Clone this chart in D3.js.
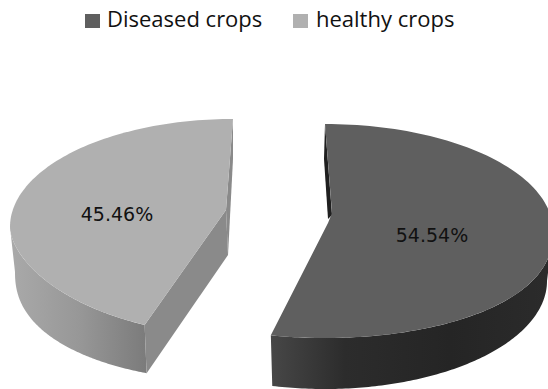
<!DOCTYPE html>
<html>
<head>
<meta charset="utf-8">
<script src="https://cdn.jsdelivr.net/npm/d3@7"></script>
<style>
html,body{margin:0;padding:0;background:#fff}
svg{display:block}
text{font-family:"Open Sans",sans-serif;fill:#111}
</style>
</head>
<body>
<svg id="chart" width="548" height="389"></svg>
<script>
const categories = ["Diseased crops", "healthy crops"];
const shares = [54.54, 45.46];
const labels = ["54.54%", "45.46%"];
const faceColors = ["#5f5f5f", "#b0b0b0"];

const svg = d3.select("#chart");
const defs = svg.append("defs");

// Each exploded slice has a top rim, a lower rim and its own apex.
// "bulge" reshapes the near half of a rim, as perspective does.
const sliceShapes = [
  { top: {cx: 325, cy: 231, rx: 228, ry: 107, bulge: 0.87}, bottom: {cx: 325, cy: 281, rx: 222, ry: 108, bulge: 1},
    apex: [328, 223], lowerApex: [328, 270], skew: -2.6,
    wall: [[271, "#474747"], [345, "#2c2c2c"], [450, "#252525"], [548, "#2b2b2b"]],
    cut: "#1f1f1f", label: [432, 235], gradX: [271, 548] },
  { top: {cx: 233, cy: 227, rx: 223, ry: 108, bulge: 1.15}, bottom: {cx: 233, cy: 272, rx: 218, ry: 109, bulge: 0.87},
    apex: [226, 210], lowerApex: [228, 255], skew: 7,
    wall: [[12, "#a9a9a9"], [80, "#979797"], [149, "#7a7a7a"]],
    cut: "#8a8a8a", label: [117, 214], gradX: [12, 149] }
];

const pieLayout = d3.pie().sort(null).value(d => d);
const arcs = pieLayout(shares);

function rim(e) {
  const x = d3.scaleLinear().domain([-1, 1]).range([e.cx - e.rx, e.cx + e.rx]);
  const y = d3.scaleLinear().domain([-1, 1]).range([e.cy - e.ry, e.cy + e.ry]);
  return a => {
    const c = -Math.cos(a);
    return [x(Math.sin(a)), y(c > 0 ? Math.pow(c, e.bulge) : c)];
  };
}
const line = d3.line();
const deg = Math.PI / 180;
const sweep = (from, to) => d3.range(0, 121).map(k => from + (to - from) * k / 120);

function drawSlice(i) {
  const s = sliceShapes[i];
  const a0 = arcs[i].startAngle + (i === 1 ? s.skew * deg : 0);
  const a1 = arcs[i].endAngle + (i === 0 ? s.skew * deg : 0);
  const topRim = rim(s.top), lowRim = rim(s.bottom);
  const g = svg.append("g");

  const gid = "wall" + i;
  const grad = defs.append("linearGradient").attr("id", gid)
    .attr("gradientUnits", "userSpaceOnUse")
    .attr("x1", s.gradX[0]).attr("x2", s.gradX[1]).attr("y1", 0).attr("y2", 0);
  s.wall.forEach(st => grad.append("stop")
    .attr("offset", (st[0] - s.gradX[0]) / (s.gradX[1] - s.gradX[0]))
    .attr("stop-color", st[1]));

  // Outer wall: only the near side of the rim is in view.
  const wallAngles = i === 0 ? sweep(90 * deg, a1) : sweep(a0, 270 * deg);
  const outer = wallAngles.map(topRim).concat(wallAngles.map(lowRim).reverse());
  g.append("path").attr("d", line(outer) + "Z").attr("fill", `url(#${gid})`);

  // Flat wall exposed along the cut edges.
  if (i === 1) {
    g.append("path").attr("d", line([topRim(a0), s.apex, s.lowerApex, lowRim(a0)]) + "Z").attr("fill", s.cut);
    const tip = topRim(a1);
    g.append("path").attr("d", line([tip, [tip[0], tip[1] + 40], s.lowerApex, s.apex]) + "Z").attr("fill", s.cut);
  } else {
    const tip = topRim(a0);
    g.append("path").attr("d", line([tip, [tip[0] - 1, tip[1] + 35], [s.apex[0], s.apex[1] - 4], [s.apex[0] + 4, s.apex[1] - 8]]) + "Z").attr("fill", s.cut);
  }

  // Top face.
  const face = sweep(a0, a1).map(topRim);
  const inner = i === 0 ? [[s.apex[0], s.apex[1]], [s.apex[0] + 4, s.apex[1] - 10]] : [s.apex];
  g.append("path").attr("d", line(face.concat(inner)) + "Z").attr("fill", faceColors[i]);

  g.append("text").attr("x", s.label[0]).attr("y", s.label[1])
    .attr("text-anchor", "middle").attr("dominant-baseline", "central")
    .style("font-family", "'DejaVu Sans',sans-serif").style("font-size", "19px")
    .text(labels[i]);
}
[1, 0].forEach(drawSlice);

// Legend row above the pie.
const legendX = d3.scaleOrdinal().domain(categories).range([85, 293]);
const legend = svg.append("g").selectAll("g").data(categories).join("g")
  .attr("transform", d => `translate(${legendX(d)},14)`);
legend.append("rect").attr("width", 15).attr("height", 14)
  .attr("fill", (d, i) => faceColors[i]);
legend.append("text").attr("x", (d, i) => i === 0 ? 22 : 23).attr("y", 13)
  .style("font-size", "22px").text(d => d);
</script>
</body>
</html>
